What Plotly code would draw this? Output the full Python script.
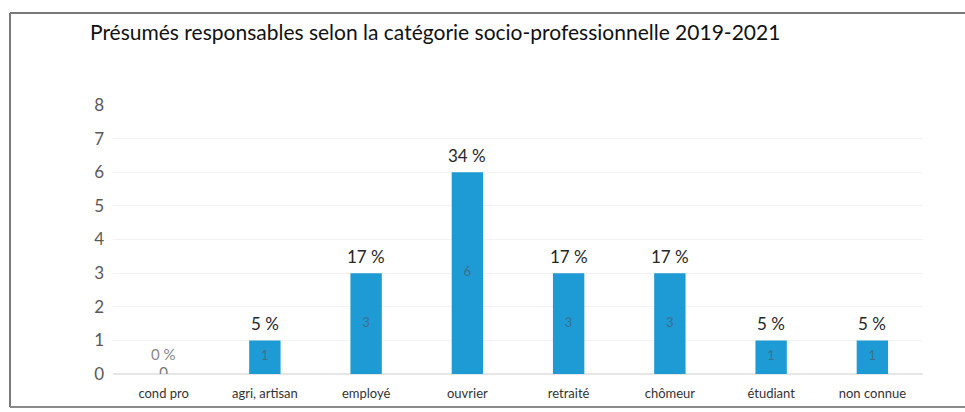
import plotly.graph_objects as go

categories = ['cond pro', 'agri, artisan', 'employé', 'ouvrier', 'retraité',
              'chômeur', 'étudiant', 'non connue']
counts = [0, 1, 3, 6, 3, 3, 1, 1]
pct_labels = ['0 %', '5 %', '17 %', '34 %', '17 %', '17 %', '5 %', '5 %']

W, H = 965, 412
L, R, T, B = 113, 42, 105, 38
pw, ph = W - L - R, H - T - B


def px(x):
    return (x - L) / pw


def py(y):
    return (H - B - y) / ph


fig = go.Figure()

fig.add_trace(go.Bar(
    x=categories,
    y=counts,
    marker=dict(color='#1e9bd4', line=dict(width=0)),
    width=0.31,
    hoverinfo='skip',
))

# counts written in the middle of the bars
fig.add_trace(go.Scatter(
    x=categories,
    y=[c / 2 for c in counts],
    mode='text',
    text=[str(c) for c in counts],
    textposition='middle center',
    textfont=dict(family='Lato', size=[15] + [13] * (len(counts) - 1),
                  color=['#777777'] + ['#3f6f8f'] * (len(counts) - 1)),
    hoverinfo='skip',
))

# percentages above the bars
annotations = []
for cat, c, lab in zip(categories, counts, pct_labels):
    annotations.append(dict(
        x=cat, y=c, text=lab, xref='x', yref='y',
        xanchor='center', yanchor='bottom',
        yshift=9 if c == 0 else 4, showarrow=False,
        font=dict(family='Lato', size=15 if c == 0 else 17,
                  color='#888888' if c == 0 else '#262626'),
    ))

annotations.append(dict(
    text='Présumés responsables selon la catégorie socio-professionnelle 2019-2021',
    xref='paper', yref='paper', x=px(88), y=py(31),
    xanchor='left', yanchor='middle', showarrow=False,
    font=dict(family='Lato', size=21, color='#111111'),
))

fig.update_layout(
    width=W, height=H,
    margin=dict(l=L, r=R, t=T, b=B),
    paper_bgcolor='white',
    plot_bgcolor='white',
    showlegend=False,
    font=dict(family='Lato', color='#404040'),
    xaxis=dict(
        showgrid=False, showline=False, zeroline=False,
        tickfont=dict(size=13, color='#333333'),
        ticks='', fixedrange=True, ticklabelstandoff=10,
        automargin=False,
    ),
    yaxis=dict(
        range=[0, 8], dtick=1,
        showgrid=True, gridcolor='#f3f3f3', gridwidth=1,
        zeroline=True, zerolinecolor='#e6e6e6',
        showline=False, ticks='',
        tickfont=dict(size=17, color='#595959'),
        ticklabelstandoff=8,
    ),
    annotations=annotations,
    shapes=[
        dict(type='line', xref='paper', yref='paper', x0=px(10), x1=px(10),
             y0=py(13), y1=py(407), line=dict(color='#7a7a7a', width=2)),
        dict(type='line', xref='paper', yref='paper', x0=px(10), x1=px(965),
             y0=py(13), y1=py(13), line=dict(color='#7a7a7a', width=2)),
        dict(type='line', xref='paper', yref='paper', x0=px(10), x1=px(965),
             y0=py(407), y1=py(407), line=dict(color='#8a8a8a', width=2)),
    ],
)

fig.write_html('out.html', config={'displayModeBar': False},
               post_script="document.body.style.margin='0';")
